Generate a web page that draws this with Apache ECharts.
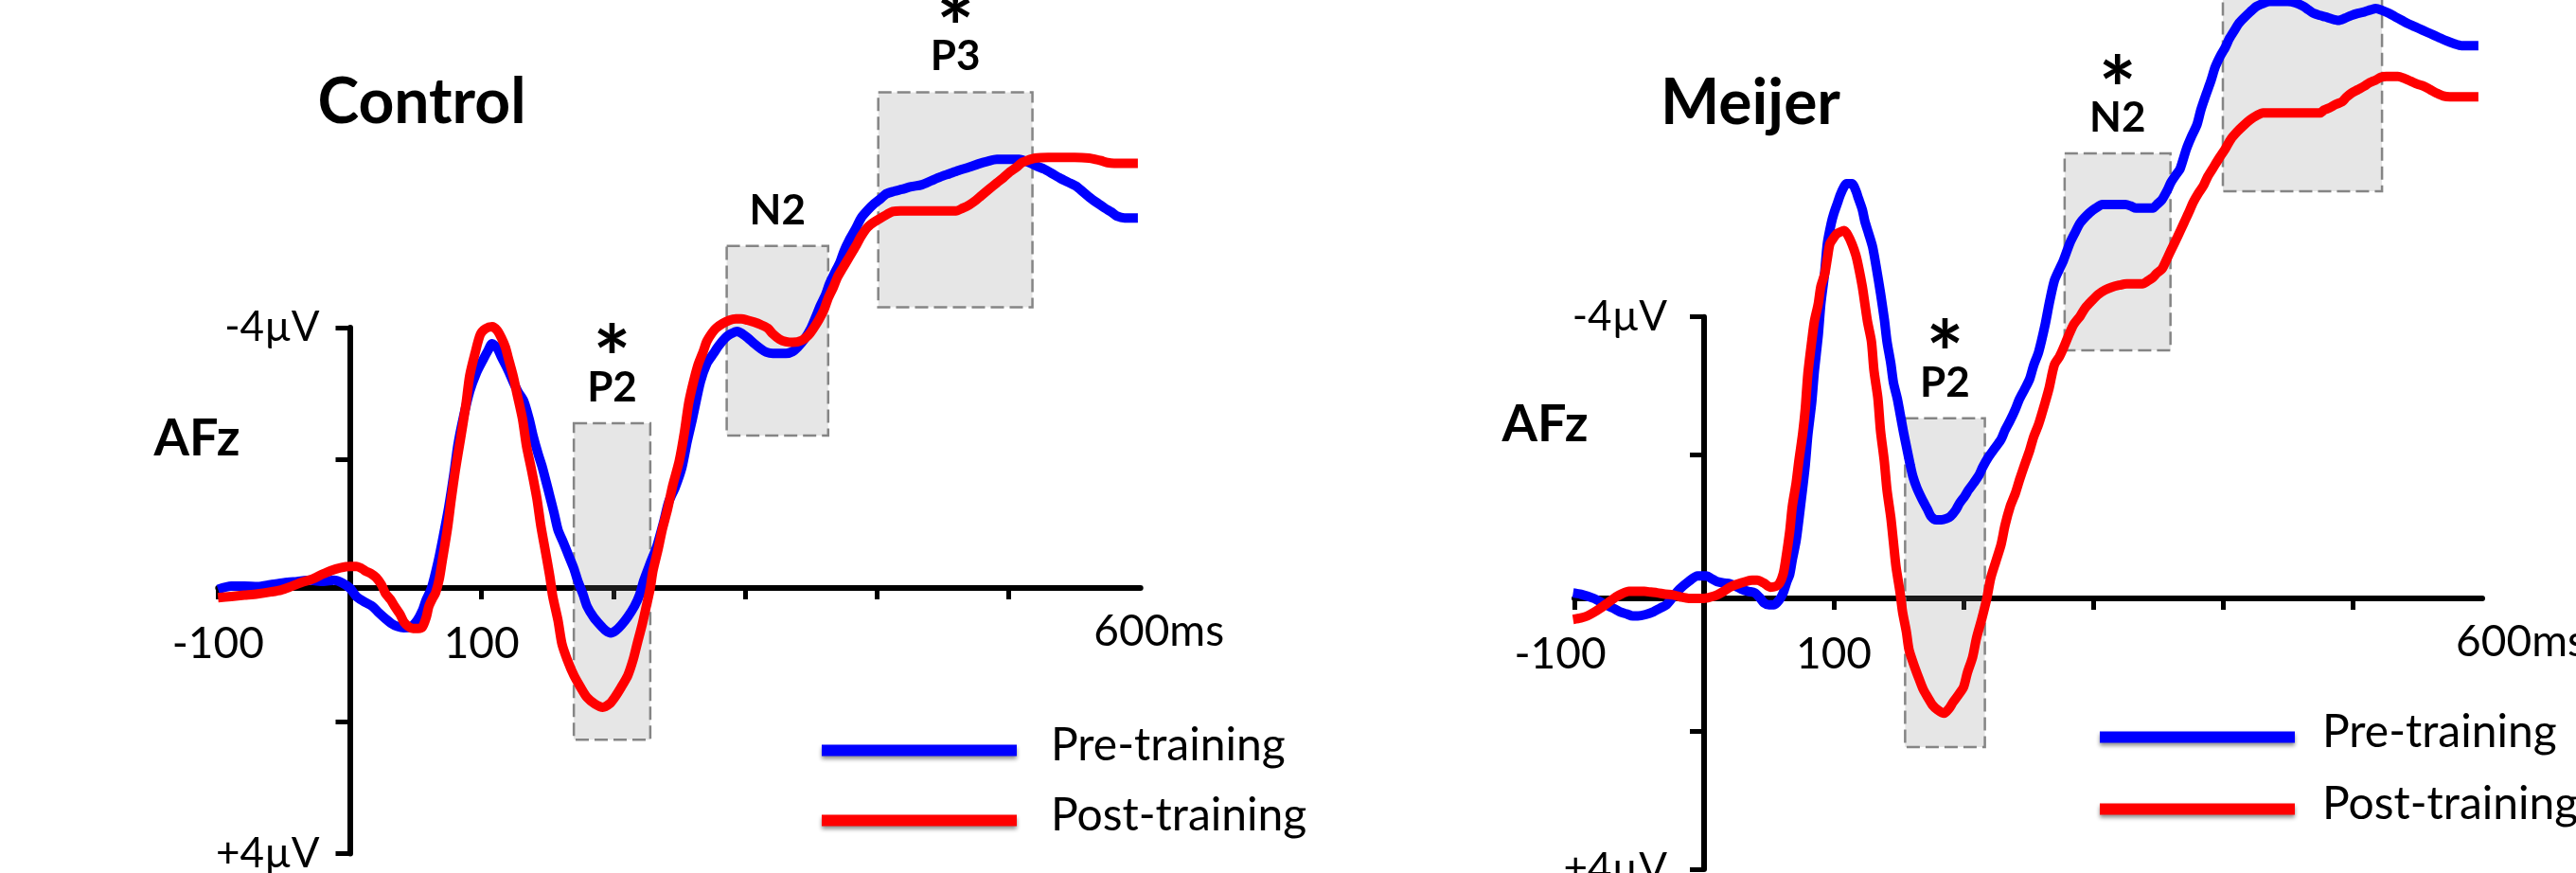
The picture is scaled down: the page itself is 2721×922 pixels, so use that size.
<!DOCTYPE html>
<html><head><meta charset="utf-8">
<script src="https://cdn.jsdelivr.net/npm/echarts@6/dist/echarts.min.js"></script>
<style>html,body{margin:0;padding:0;background:#fff;}#c{width:2721px;height:922px;}</style>
</head><body><div id="c"></div>
<script>
// ---------- DATA (time in ms, amplitude in µV; negative plotted upward) ----------
const controlPre = [[-100,0.02],[-90,-0.03],[-80,-0.03],[-70,-0.02],[-60,-0.05],[-50,-0.08],[-40,-0.1],[-30,-0.12],[-20,-0.1],[-12,-0.12],[-6,-0.08],[0,0.0],[5,0.13],[10,0.2],[17,0.28],[22,0.38],[27,0.47],[32,0.55],[36,0.59],[41,0.61],[46,0.6],[51,0.5],[55,0.35],[58,0.18],[62,0.0],[67,-0.4],[71,-0.8],[75,-1.23],[79,-1.75],[82,-2.19],[86,-2.6],[91,-3.02],[96,-3.3],[101,-3.5],[105,-3.65],[108,-3.75],[112,-3.68],[115,-3.55],[120,-3.35],[125,-3.12],[128,-3.0],[132,-2.87],[136,-2.6],[139,-2.34],[143,-2.05],[146,-1.86],[151,-1.47],[155,-1.15],[158,-0.89],[162,-0.7],[166,-0.5],[170,-0.3],[173,-0.11],[177,0.1],[180,0.28],[185,0.45],[190,0.57],[194,0.65],[198,0.69],[202,0.65],[206,0.57],[211,0.44],[216,0.28],[220,0.1],[223,-0.11],[228,-0.38],[233,-0.64],[238,-1.0],[242,-1.32],[247,-1.55],[252,-1.85],[256,-2.25],[260,-2.6],[266,-3.16],[271,-3.45],[276,-3.6],[280,-3.72],[285,-3.84],[289,-3.9],[294,-3.94],[298,-3.9],[302,-3.84],[307,-3.75],[312,-3.67],[316,-3.62],[321,-3.6],[326,-3.6],[331,-3.6],[336,-3.63],[340,-3.7],[345,-3.82],[350,-3.99],[354,-4.18],[357,-4.33],[361,-4.5],[364,-4.67],[368,-4.84],[372,-5.0],[375,-5.17],[379,-5.34],[384,-5.52],[388,-5.68],[393,-5.8],[398,-5.9],[403,-5.98],[407,-6.05],[413,-6.09],[419,-6.12],[426,-6.16],[434,-6.19],[441,-6.25],[448,-6.31],[455,-6.36],[462,-6.41],[470,-6.46],[477,-6.51],[484,-6.55],[491,-6.58],[500,-6.58],[508,-6.58],[513,-6.55],[518,-6.51],[522,-6.47],[527,-6.43],[533,-6.36],[539,-6.29],[545,-6.23],[551,-6.17],[557,-6.07],[563,-5.97],[568,-5.9],[573,-5.83],[578,-5.77],[582,-5.71],[588,-5.68],[598,-5.68]];
const controlPost = [[-100,0.15],[-90,0.13],[-80,0.11],[-70,0.09],[-60,0.06],[-52,0.03],[-45,-0.02],[-36,-0.09],[-28,-0.14],[-21,-0.21],[-14,-0.27],[-7,-0.31],[0,-0.33],[5,-0.33],[9,-0.3],[12,-0.26],[16,-0.22],[20,-0.16],[24,-0.05],[27,0.08],[31,0.18],[34,0.28],[38,0.4],[41,0.52],[45,0.6],[48,0.62],[52,0.62],[55,0.6],[58,0.45],[60,0.28],[63,0.15],[65,0.08],[68,-0.15],[70,-0.4],[74,-0.9],[77,-1.37],[80,-1.8],[84,-2.29],[88,-2.8],[91,-3.26],[95,-3.6],[99,-3.89],[103,-3.98],[108,-4.01],[112,-3.95],[115,-3.84],[118,-3.7],[120,-3.55],[124,-3.25],[127,-2.97],[131,-2.6],[134,-2.19],[138,-1.8],[142,-1.37],[145,-0.95],[149,-0.5],[152,-0.15],[154,0.13],[158,0.5],[161,0.86],[165,1.1],[170,1.34],[175,1.52],[180,1.68],[186,1.78],[192,1.83],[197,1.78],[201,1.68],[206,1.52],[211,1.34],[215,1.1],[218,0.86],[222,0.55],[225,0.28],[228,0.0],[230,-0.26],[234,-0.6],[237,-0.89],[241,-1.2],[245,-1.57],[250,-1.95],[254,-2.4],[257,-2.82],[260,-3.1],[264,-3.41],[268,-3.62],[271,-3.79],[275,-3.92],[278,-3.99],[283,-4.06],[288,-4.11],[293,-4.13],[297,-4.13],[302,-4.11],[307,-4.08],[312,-4.04],[317,-3.99],[321,-3.9],[326,-3.82],[331,-3.78],[336,-3.77],[343,-3.8],[348,-3.88],[352,-3.99],[356,-4.12],[360,-4.28],[363,-4.45],[367,-4.62],[370,-4.77],[374,-4.91],[379,-5.08],[384,-5.25],[388,-5.4],[393,-5.54],[398,-5.62],[403,-5.68],[408,-5.74],[412,-5.78],[418,-5.79],[424,-5.79],[434,-5.79],[443,-5.79],[452,-5.79],[460,-5.79],[465,-5.83],[470,-5.88],[475,-5.95],[479,-6.02],[485,-6.12],[491,-6.22],[496,-6.3],[501,-6.39],[506,-6.46],[510,-6.53],[515,-6.57],[520,-6.6],[530,-6.61],[540,-6.61],[550,-6.61],[561,-6.6],[566,-6.58],[570,-6.56],[575,-6.53],[580,-6.52],[590,-6.52],[598,-6.52]];
const meijerPre = [[-101,-0.08],[-95,-0.06],[-85,0.0],[-78,0.07],[-70,0.14],[-65,0.19],[-60,0.22],[-55,0.25],[-51,0.25],[-45,0.23],[-39,0.19],[-34,0.14],[-29,0.09],[-24,-0.02],[-19,-0.13],[-12,-0.24],[-5,-0.32],[2,-0.32],[6,-0.28],[10,-0.24],[15,-0.22],[20,-0.21],[25,-0.17],[29,-0.13],[34,-0.1],[39,-0.08],[43,-0.01],[46,0.06],[50,0.09],[54,0.09],[58,0.02],[61,-0.08],[64,-0.25],[66,-0.34],[68,-0.55],[71,-0.83],[75,-1.42],[78,-1.9],[80,-2.33],[83,-2.8],[85,-3.24],[88,-3.75],[90,-4.2],[93,-4.65],[95,-5.06],[98,-5.35],[100,-5.49],[103,-5.65],[105,-5.76],[108,-5.88],[110,-5.92],[114,-5.92],[117,-5.82],[119,-5.71],[122,-5.55],[124,-5.38],[127,-5.2],[130,-5.01],[133,-4.7],[136,-4.36],[139,-3.98],[141,-3.67],[144,-3.35],[146,-3.08],[149,-2.85],[151,-2.65],[154,-2.35],[156,-2.17],[159,-1.9],[161,-1.74],[164,-1.58],[168,-1.42],[172,-1.28],[175,-1.17],[179,-1.12],[183,-1.12],[187,-1.14],[190,-1.17],[194,-1.26],[197,-1.36],[201,-1.46],[204,-1.55],[208,-1.65],[212,-1.76],[215,-1.88],[219,-2.01],[224,-2.14],[229,-2.27],[232,-2.4],[236,-2.54],[240,-2.7],[243,-2.84],[247,-2.98],[251,-3.13],[254,-3.32],[258,-3.52],[263,-3.91],[266,-4.2],[270,-4.53],[274,-4.7],[277,-4.82],[282,-5.07],[286,-5.22],[290,-5.36],[297,-5.5],[302,-5.57],[307,-5.62],[313,-5.62],[319,-5.62],[325,-5.62],[329,-5.6],[333,-5.57],[339,-5.57],[346,-5.57],[349,-5.62],[353,-5.69],[357,-5.82],[360,-5.94],[364,-6.05],[367,-6.13],[372,-6.42],[376,-6.6],[380,-6.76],[383,-6.97],[387,-7.19],[391,-7.4],[394,-7.58],[398,-7.74],[402,-7.87],[405,-7.99],[409,-8.11],[412,-8.2],[416,-8.28],[421,-8.37],[426,-8.45],[431,-8.49],[436,-8.52],[443,-8.52],[450,-8.52],[456,-8.5],[462,-8.45],[466,-8.4],[470,-8.35],[475,-8.32],[479,-8.3],[484,-8.27],[489,-8.25],[494,-8.28],[499,-8.32],[504,-8.35],[509,-8.37],[514,-8.4],[518,-8.42],[523,-8.39],[528,-8.35],[533,-8.3],[538,-8.25],[542,-8.21],[548,-8.16],[554,-8.11],[560,-8.06],[566,-8.01],[572,-7.96],[578,-7.92],[584,-7.89],[590,-7.89],[597,-7.89]];
const meijerPost = [[-101,0.3],[-95,0.28],[-90,0.25],[-85,0.2],[-80,0.14],[-74,0.06],[-68,-0.02],[-63,-0.07],[-58,-0.1],[-52,-0.1],[-46,-0.1],[-41,-0.09],[-36,-0.08],[-30,-0.06],[-24,-0.05],[-18,-0.02],[-12,0.0],[-6,0.0],[0,0.0],[5,-0.02],[10,-0.05],[15,-0.1],[20,-0.16],[25,-0.2],[32,-0.24],[37,-0.26],[41,-0.26],[46,-0.22],[51,-0.16],[55,-0.17],[58,-0.21],[61,-0.35],[63,-0.56],[66,-0.95],[68,-1.31],[71,-1.65],[73,-1.95],[76,-2.35],[78,-2.7],[80,-3.2],[83,-3.67],[85,-3.95],[88,-4.2],[90,-4.45],[93,-4.63],[95,-4.85],[97,-5.06],[100,-5.15],[102,-5.2],[105,-5.23],[108,-5.25],[111,-5.18],[114,-5.06],[117,-4.9],[119,-4.74],[122,-4.45],[124,-4.2],[126,-3.95],[129,-3.67],[131,-3.25],[134,-2.86],[136,-2.4],[139,-1.95],[141,-1.55],[144,-1.15],[146,-0.8],[148,-0.45],[151,-0.1],[153,0.19],[156,0.48],[158,0.73],[162,0.96],[166,1.16],[169,1.3],[173,1.43],[176,1.52],[180,1.59],[185,1.64],[189,1.57],[192,1.48],[196,1.38],[200,1.27],[203,1.06],[207,0.84],[210,0.57],[214,0.3],[218,0.0],[221,-0.29],[225,-0.53],[229,-0.77],[232,-1.04],[236,-1.31],[240,-1.5],[243,-1.68],[247,-1.9],[251,-2.11],[254,-2.3],[258,-2.49],[263,-2.8],[266,-3.0],[270,-3.33],[274,-3.45],[277,-3.57],[281,-3.75],[285,-3.91],[290,-4.03],[294,-4.15],[299,-4.25],[304,-4.34],[309,-4.4],[314,-4.44],[320,-4.47],[326,-4.49],[332,-4.49],[338,-4.49],[342,-4.53],[346,-4.58],[349,-4.64],[353,-4.7],[357,-4.85],[360,-4.97],[365,-5.16],[370,-5.36],[374,-5.52],[377,-5.65],[381,-5.78],[385,-5.89],[388,-6.01],[392,-6.13],[397,-6.28],[402,-6.42],[406,-6.55],[411,-6.66],[416,-6.75],[421,-6.83],[426,-6.89],[431,-6.93],[440,-6.93],[450,-6.93],[460,-6.93],[468,-6.93],[475,-6.93],[478,-6.97],[482,-7.0],[487,-7.05],[492,-7.09],[495,-7.15],[499,-7.21],[504,-7.26],[509,-7.31],[513,-7.36],[518,-7.4],[522,-7.44],[526,-7.45],[531,-7.45],[535,-7.45],[540,-7.42],[545,-7.38],[550,-7.34],[555,-7.31],[560,-7.26],[565,-7.21],[570,-7.17],[575,-7.16],[585,-7.16],[597,-7.16]];

// analysis windows (ms) and amplitude extents (µV)
const controlWinNames = ['P2','N2','P3'];
const controlWinStar  = [true,false,true];
const controlWinStart = [170,286,401];
const controlWinEnd   = [228,363,518];
const controlWinTop   = [-2.53,-5.25,-7.61];
const controlWinBot   = [2.33,-2.34,-4.31];
const meijerWinNames = ['P2','N2','P3'];
const meijerWinStar  = [true,true,false];
const meijerWinStart = [155,278,400];
const meijerWinEnd   = [216.5,359.6,522.7];
const meijerWinTop   = [-2.57,-6.35,-9.3];
const meijerWinBot   = [2.12,-3.54,-5.81];

const xTickValues = [-100,100,200,300,400,500];
const xLabelValues = [-100,100,600];
const yTickValues = [-4,-2,2,4];
const yLabelValues = [-4,4];
const seriesNames = ['Pre-training','Post-training'];
const titles = ['Control','Meijer'];
const channel = 'AFz';

// ---------- LAYOUT ----------
const FONT = 'Lato';
const panels = [
  {title: titles[0], pre: controlPre, post: controlPost,
   win: {names: controlWinNames, star: controlWinStar, s: controlWinStart, e: controlWinEnd, t: controlWinTop, b: controlWinBot},
   x0: 369.5, pxMs: 1.392, zeroY: 621, pxUv: 68.8, decoTop: 346, decoBot: 901.5,
   titleX: 445.5, titleTop: 76, afzX: 208, afzTop: 437, yLabelMargin: 32,
   msPad: 39, m100Pad: 0, legLeft: 868, legTop: 763.5, legGap: 16, legTextPad: 31},
  {title: titles[1], pre: meijerPre, post: meijerPost,
   win: {names: meijerWinNames, star: meijerWinStar, s: meijerWinStart, e: meijerWinEnd, t: meijerWinTop, b: meijerWinBot},
   x0: 1800, pxMs: 1.37, zeroY: 632, pxUv: 74, decoTop: 334.7, decoBot: 918,
   titleX: 1849, titleTop: 76.5, afzX: 1632, afzTop: 421.5, yLabelMargin: 39,
   msPad: 82, m100Pad: 30, legLeft: 2218, legTop: 749.5, legGap: 18, legTextPad: 24}
];
const X_MIN = -100, X_MAX = 600, Y_MIN = -9.5, Y_MAX = 4.5;

const option = {animation: false, backgroundColor: '#fff', grid: [], xAxis: [], yAxis: [], series: [], title: [], legend: []};
const hiddenAxis = (g, min, max) => ({gridIndex: g, type: 'value', min, max, show: false,
  axisLine: {show: false}, axisTick: {show: false}, axisLabel: {show: false}, splitLine: {show: false}});

panels.forEach((p, i) => {
  const gData = i * 3, gY = i * 3 + 1, gX = i * 3 + 2;
  const left = p.x0 + X_MIN * p.pxMs, width = (X_MAX - X_MIN) * p.pxMs;
  option.grid.push({left, width, top: p.zeroY + Y_MIN * p.pxUv, height: (Y_MAX - Y_MIN) * p.pxUv,
                    outerBoundsMode: 'none', containLabel: false});
  option.grid.push({left: p.x0, width: 10, top: p.decoTop, height: p.decoBot - p.decoTop,
                    outerBoundsMode: 'none', containLabel: false});
  option.grid.push({left, width, top: p.zeroY - 10, height: 10, outerBoundsMode: 'none', containLabel: false});

  option.xAxis.push(hiddenAxis(gData, X_MIN, X_MAX));
  option.yAxis.push(Object.assign(hiddenAxis(gData, Y_MIN, Y_MAX), {inverse: true}));

  option.xAxis.push(hiddenAxis(gY, 0, 1));
  option.yAxis.push({
    gridIndex: gY, type: 'value', inverse: true, min: -4, max: 4, position: 'left',
    axisLine: {show: true, onZero: false, lineStyle: {color: '#000', width: 6}},
    axisTick: {show: true, customValues: yTickValues, length: 15, lineStyle: {color: '#000', width: 5}},
    axisLabel: {show: true, customValues: yLabelValues, margin: p.yLabelMargin, color: '#000', fontFamily: FONT, fontSize: 44,
      formatter: v => (v < 0 ? '-' : '+') + Math.abs(v) + 'µV'},
    splitLine: {show: false}
  });

  option.xAxis.push({
    gridIndex: gX, type: 'value', min: X_MIN, max: X_MAX, position: 'bottom',
    axisLine: {show: true, onZero: false, lineStyle: {color: '#000', width: 6}},
    axisTick: {show: true, customValues: xTickValues, length: 12, lineStyle: {color: '#000', width: 5}},
    axisLabel: {show: true, customValues: xLabelValues, margin: 36, color: '#000', fontFamily: FONT, fontSize: 46,
      formatter: v => v === 600 ? '{ms|600ms}' : (v === -100 ? '{m|-100}' : '{d|' + v + '}'),
      rich: {
        ms: {fontFamily: FONT, fontSize: 46, lineHeight: 20, color: '#000', padding: [0, 0, 0, p.msPad]},
        m: {fontFamily: FONT, fontSize: 46, lineHeight: 46, color: '#000', padding: [0, p.m100Pad, 0, 0]},
        d: {fontFamily: FONT, fontSize: 46, lineHeight: 46, color: '#000'}
      }},
    splitLine: {show: false}
  });
  option.yAxis.push(hiddenAxis(gX, 0, 1));

  const colors = ['#0000ff', '#ff0000'];
  [p.pre, p.post].forEach((d, k) => {
    option.series.push({
      name: seriesNames[k], type: 'line', xAxisIndex: gData, yAxisIndex: gData, data: d,
      showSymbol: false, symbol: 'none', smooth: 0.25, silent: true, z: 2 + k,
      color: colors[k], lineStyle: {color: colors[k], width: 10}
    });
  });

  const w = p.win;
  const areas = w.names.map((n, j) => [
    {name: n, xAxis: w.s[j], yAxis: w.t[j]},
    {xAxis: w.e[j], yAxis: w.b[j]}
  ]);
  option.series.push({
    name: 'windows' + i, type: 'line', xAxisIndex: gData, yAxisIndex: gData, data: [], z: 5, silent: true,
    markArea: {
      silent: true,
      itemStyle: {color: 'rgba(128,128,128,0.2)', borderColor: '#858585', borderWidth: 2.5, borderType: [14, 6]},
      label: {show: true, position: 'top', distance: 16, color: '#000',
        formatter: prm => (w.star[prm.dataIndex] ? '{s|*}\n' : '') + '{n|' + prm.name + '}',
        rich: {
          s: {fontFamily: FONT, fontWeight: 'bold', fontSize: 94, lineHeight: 15, color: '#000', align: 'center'},
          n: {fontFamily: FONT, fontWeight: 'bold', fontSize: 44, lineHeight: 40, color: '#000', align: 'center'}
        }},
      emphasis: {disabled: true},
      data: areas
    }
  });

  option.title.push({text: p.title, left: p.titleX, top: p.titleTop, textAlign: 'center', padding: 0,
    textStyle: {fontFamily: FONT, fontWeight: 'bold', fontSize: 66, lineHeight: 66, color: '#000'}});
  option.title.push({text: channel, left: p.afzX, top: p.afzTop, textAlign: 'center', padding: 0,
    textStyle: {fontFamily: FONT, fontWeight: 'bold', fontSize: 54, lineHeight: 54, color: '#000'}});

  option.legend.push({
    data: seriesNames, orient: 'vertical', left: p.legLeft, top: p.legTop, itemGap: p.legGap, padding: 0,
    icon: 'rect', itemWidth: 206, itemHeight: 12, selectedMode: false,
    itemStyle: {borderWidth: 0, shadowBlur: 4, shadowColor: 'rgba(0,0,0,0.45)', shadowOffsetY: 3},
    formatter: nm => '{t|' + nm + '}',
    textStyle: {fontFamily: FONT, fontSize: 48, color: '#000',
      rich: {t: {fontFamily: FONT, fontSize: 48, lineHeight: 47, color: '#000', padding: [0, 0, 10, p.legTextPad]}}}
  });
});

const chart = echarts.init(document.getElementById('c'), null, {renderer: 'canvas'});
chart.setOption(option);
</script></body></html>
